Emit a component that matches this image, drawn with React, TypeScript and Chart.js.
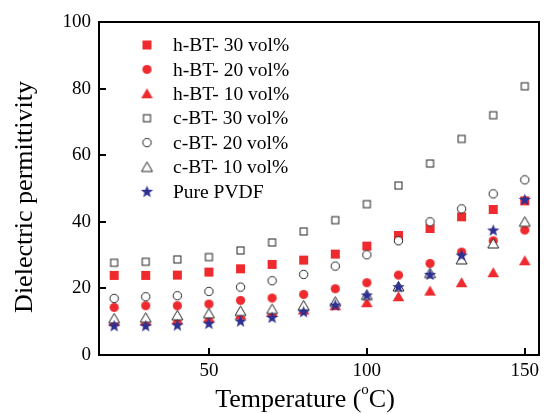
import React, { useEffect, useRef } from "react";
import { Chart, registerables } from "chart.js";

Chart.register(...registerables);

const temperatures = [20, 30, 40, 50, 60, 70, 80, 90, 100, 110, 120, 130, 140, 150];
const hBT30 = [23.9, 23.9, 24.0, 24.9, 25.9, 27.2, 28.5, 30.3, 32.7, 35.9, 38.0, 41.5, 43.7, 46.3];
const hBT20 = [14.3, 14.8, 14.8, 15.3, 16.4, 17.1, 18.2, 19.9, 21.7, 24.0, 27.5, 30.9, 34.3, 37.5];
const hBT10 = [10.0, 10.2, 10.6, 11.2, 12.0, 12.8, 13.5, 14.8, 15.7, 17.5, 19.2, 21.7, 24.7, 28.3];
const cBT30 = [27.7, 28.0, 28.7, 29.4, 31.4, 33.8, 37.1, 40.5, 45.3, 50.9, 57.5, 64.9, 72.0, 80.7];
const cBT20 = [17.0, 17.5, 17.8, 19.1, 20.4, 22.3, 24.2, 26.7, 30.1, 34.3, 40.0, 43.9, 48.4, 52.6];
const cBT10 = [11.0, 11.2, 11.9, 12.5, 13.2, 13.8, 14.9, 16.0, 18.0, 20.6, 24.6, 28.7, 33.5, 40.0];
const pvdf = [8.8, 8.8, 9.0, 9.5, 10.2, 11.3, 13.0, 15.0, 18.0, 20.5, 24.2, 30.0, 37.5, 46.7];

const seriesLabels = [
  "h-BT- 30 vol%",
  "h-BT- 20 vol%",
  "h-BT- 10 vol%",
  "c-BT- 30 vol%",
  "c-BT- 20 vol%",
  "c-BT- 10 vol%",
  "Pure PVDF",
];
const xTicks = [50, 100, 150];
const yTicks = [0, 20, 40, 60, 80, 100];

const RED = "#ee2a2e";
const NAVY = "#2e3192";
const DARK = "#222222";
const SERIF = "'Liberation Serif', 'DejaVu Serif', serif";

function makeMarker(kind: string): HTMLCanvasElement {
  const c = document.createElement("canvas");
  const s = 15;
  c.width = s;
  c.height = s;
  const ctx = c.getContext("2d")!;
  const m = s / 2;
  ctx.lineWidth = 1;
  ctx.strokeStyle = DARK;
  if (kind === "redSquare") {
    ctx.fillStyle = RED;
    ctx.fillRect(m - 4.5, m - 4.5, 9, 9);
  } else if (kind === "redCircle") {
    ctx.fillStyle = RED;
    ctx.beginPath();
    ctx.arc(m, m, 4.6, 0, Math.PI * 2);
    ctx.fill();
  } else if (kind === "redTriangle") {
    ctx.fillStyle = RED;
    ctx.beginPath();
    ctx.moveTo(m, m - 5.5);
    ctx.lineTo(m + 5.8, m + 4.5);
    ctx.lineTo(m - 5.8, m + 4.5);
    ctx.closePath();
    ctx.fill();
  } else if (kind === "openSquare") {
    ctx.fillStyle = "#ffffff";
    ctx.fillRect(m - 4, m - 4, 8, 8);
    ctx.strokeRect(m - 3.5, m - 3.5, 7, 7);
  } else if (kind === "openCircle") {
    ctx.fillStyle = "#ffffff";
    ctx.beginPath();
    ctx.arc(m, m, 4.2, 0, Math.PI * 2);
    ctx.fill();
    ctx.stroke();
  } else if (kind === "openTriangle") {
    ctx.fillStyle = "#ffffff";
    ctx.beginPath();
    ctx.moveTo(m, m - 5);
    ctx.lineTo(m + 5.5, m + 4.5);
    ctx.lineTo(m - 5.5, m + 4.5);
    ctx.closePath();
    ctx.fill();
    ctx.stroke();
  } else if (kind === "star") {
    ctx.fillStyle = NAVY;
    ctx.beginPath();
    for (let i = 0; i < 10; i++) {
      const r = i % 2 === 0 ? 6.5 : 2.7;
      const a = -Math.PI / 2 + (i * Math.PI) / 5;
      const px = m + r * Math.cos(a);
      const py = m + 0.5 + r * Math.sin(a);
      if (i === 0) ctx.moveTo(px, py);
      else ctx.lineTo(px, py);
    }
    ctx.closePath();
    ctx.fill();
  }
  return c;
}

export default function App() {
  const ref = useRef<HTMLCanvasElement | null>(null);

  useEffect(() => {
    if (!ref.current) return;
    const markers = [
      makeMarker("redSquare"),
      makeMarker("redCircle"),
      makeMarker("redTriangle"),
      makeMarker("openSquare"),
      makeMarker("openCircle"),
      makeMarker("openTriangle"),
      makeMarker("star"),
    ];
    const values = [hBT30, hBT20, hBT10, cBT30, cBT20, cBT10, pvdf];
    const orders = [2, 2, 2, 1, 1, 1, 0];

    const datasets = values.map((vals, i) => ({
      label: seriesLabels[i],
      data: temperatures.map((t, j) => ({ x: t, y: vals[j] })),
      pointStyle: markers[i] as any,
      pointRadius: 6,
      showLine: false,
      order: orders[i],
    }));

    const framePlugin = {
      id: "frameAndTitles",
      afterDraw(chart: any) {
        const ctx = chart.ctx as CanvasRenderingContext2D;
        const a = chart.chartArea;
        const xs = chart.scales.x;
        const ys = chart.scales.y;
        ctx.save();
        // frame
        ctx.strokeStyle = "#000";
        ctx.lineWidth = 2;
        ctx.strokeRect(a.left, a.top, a.right - a.left, a.bottom - a.top);
        // inward ticks
        ctx.beginPath();
        xTicks.forEach((v) => {
          const px = Math.round(xs.getPixelForValue(v));
          ctx.moveTo(px, a.bottom);
          ctx.lineTo(px, a.bottom - 7);
        });
        yTicks.forEach((v) => {
          const py = Math.round(ys.getPixelForValue(v));
          ctx.moveTo(a.left, py);
          ctx.lineTo(a.left + 7, py);
        });
        ctx.stroke();

        // legend
        ctx.fillStyle = "#000";
        ctx.font = `19.5px ${SERIF}`;
        ctx.textAlign = "left";
        ctx.textBaseline = "middle";
        seriesLabels.forEach((lab, i) => {
          const cy = 45 + i * 24.4;
          const mk = markers[i];
          ctx.drawImage(mk, 147 - mk.width / 2, cy - mk.height / 2);
          ctx.fillText(lab, 173, cy + 1);
        });

        // y title
        ctx.save();
        ctx.translate(32, 197);
        ctx.rotate(-Math.PI / 2);
        ctx.font = `26px ${SERIF}`;
        ctx.textAlign = "center";
        ctx.textBaseline = "alphabetic";
        ctx.fillText("Dielectric permittivity", 0, 0);
        ctx.restore();

        // x title with superscript o
        const big = `26px ${SERIF}`;
        const small = `15px ${SERIF}`;
        const p1 = "Temperature (";
        const p2 = "o";
        const p3 = "C)";
        ctx.textAlign = "left";
        ctx.textBaseline = "alphabetic";
        ctx.font = big;
        const w1 = ctx.measureText(p1).width;
        const w3 = ctx.measureText(p3).width;
        ctx.font = small;
        const w2 = ctx.measureText(p2).width;
        let sx = 305 - (w1 + w2 + w3) / 2;
        const base = 407;
        ctx.font = big;
        ctx.fillText(p1, sx, base);
        sx += w1;
        ctx.font = small;
        ctx.fillText(p2, sx, base - 13);
        sx += w2;
        ctx.font = big;
        ctx.fillText(p3, sx, base);
        ctx.restore();
      },
    };

    const chart = new Chart(ref.current, {
      type: "scatter",
      data: { datasets: datasets as any },
      options: {
        animation: false,
        responsive: false,
        layout: { padding: { left: 0, right: 3, top: 22, bottom: 0 } },
        plugins: {
          legend: { display: false },
          tooltip: { enabled: false },
          title: { display: false },
        },
        scales: {
          x: {
            type: "linear",
            min: 15.2,
            max: 154.5,
            grid: { display: false, drawTicks: false },
            border: { display: false },
            afterBuildTicks: (scale: any) => {
              scale.ticks = xTicks.map((v) => ({ value: v }));
            },
            afterFit: (scale: any) => {
              scale.height = 59;
            },
            ticks: {
              color: "#000",
              font: { family: SERIF, size: 19 },
              padding: 5,
              maxRotation: 0,
            },
          },
          y: {
            type: "linear",
            min: 0,
            max: 100,
            grid: { display: false, drawTicks: false },
            border: { display: false },
            afterBuildTicks: (scale: any) => {
              scale.ticks = yTicks.map((v) => ({ value: v }));
            },
            afterFit: (scale: any) => {
              scale.width = 99;
            },
            ticks: {
              color: "#000",
              font: { family: SERIF, size: 19 },
              padding: 8,
            },
          },
        },
      },
      plugins: [framePlugin],
    });
    return () => chart.destroy();
  }, []);

  return (
    <div style={{ position: "absolute", left: 0, top: 0, width: 546, height: 414, background: "#fff" }}>
      <canvas ref={ref} width={546} height={414} />
    </div>
  );
}
